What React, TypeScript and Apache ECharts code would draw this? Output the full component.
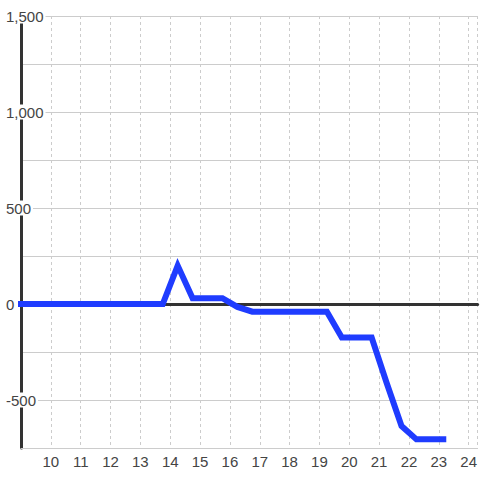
import React, { useEffect, useRef } from "react";
import * as echarts from "echarts";

const hours = [8.75, 9.25, 9.75, 10.25, 10.75, 11.25, 11.75, 12.25, 12.75, 13.25, 13.75, 14.25, 14.75, 15.25, 15.75, 16.25, 16.75, 17.25, 17.75, 18.25, 18.75, 19.25, 19.75, 20.25, 20.75, 21.25, 21.75, 22.25, 22.75, 23.25];
const values = [0, 0, 0, 0, 0, 0, 0, 0, 0, 0, 0, 200, 30, 30, 30, -15, -40, -40, -40, -40, -40, -40, -175, -175, -175, -410, -635, -705, -705, -705];

const xMin = 9;
const xMax = 24.3;
const yMin = -750;
const yMax = 1500;

export default function App() {
  const ref = useRef<HTMLDivElement>(null);
  useEffect(() => {
    if (!ref.current) return;
    const chart = echarts.init(ref.current, null, { renderer: "svg" });
    const font = "'Liberation Sans', Arial, sans-serif";
    chart.setOption({
      animation: false,
      backgroundColor: "#ffffff",
      grid: { left: 21, right: 0, top: 16, bottom: 32, containLabel: false },
      xAxis: [
        {
          type: "value",
          min: xMin,
          max: xMax,
          interval: 1,
          position: "bottom",
          axisLine: { show: true, onZero: false, lineStyle: { color: "#cccccc", width: 1 } },
          axisTick: { show: false },
          axisLabel: {
            show: true,
            showMinLabel: false,
            showMaxLabel: false,
            color: "#444444",
            fontSize: 15,
            fontFamily: font,
            margin: 6,
          },
          splitLine: { show: true, lineStyle: { color: "#cccccc", width: 1, type: [3, 3] } },
        },
        {
          type: "value",
          min: xMin,
          max: xMax,
          interval: 1,
          position: "bottom",
          axisLine: { show: true, onZero: true, lineStyle: { color: "#333333", width: 3 } },
          axisTick: { show: false },
          axisLabel: { show: false },
          splitLine: { show: false },
        },
      ],
      yAxis: {
        type: "value",
        min: yMin,
        max: yMax,
        interval: 250,
        axisLine: { show: true, lineStyle: { color: "#333333", width: 3 } },
        axisTick: { show: false },
        axisLabel: {
          show: true,
          align: "left",
          margin: 15,
          color: "#444444",
          fontSize: 15,
          fontFamily: font,
          backgroundColor: "#ffffff",
          padding: [0, 2, 0, 0],
          formatter: (v: number) => (v % 500 === 0 && v !== yMin ? v.toLocaleString("en-US") : ""),
        },
        splitLine: { show: true, lineStyle: { color: "#cccccc", width: 1 } },
      },
      series: [
        {
          type: "line",
          xAxisIndex: 0,
          data: hours.map((h, i) => [h, values[i]]),
          showSymbol: false,
          symbol: "none",
          clip: true,
          lineStyle: { color: "#1f3cff", width: 6, cap: "butt", join: "miter" },
          z: 5,
        },
      ],
    });
    return () => chart.dispose();
  }, []);
  return (
    <div
      ref={ref}
      style={{ position: "absolute", left: 0, top: 0, width: 480, height: 480 }}
    />
  );
}
